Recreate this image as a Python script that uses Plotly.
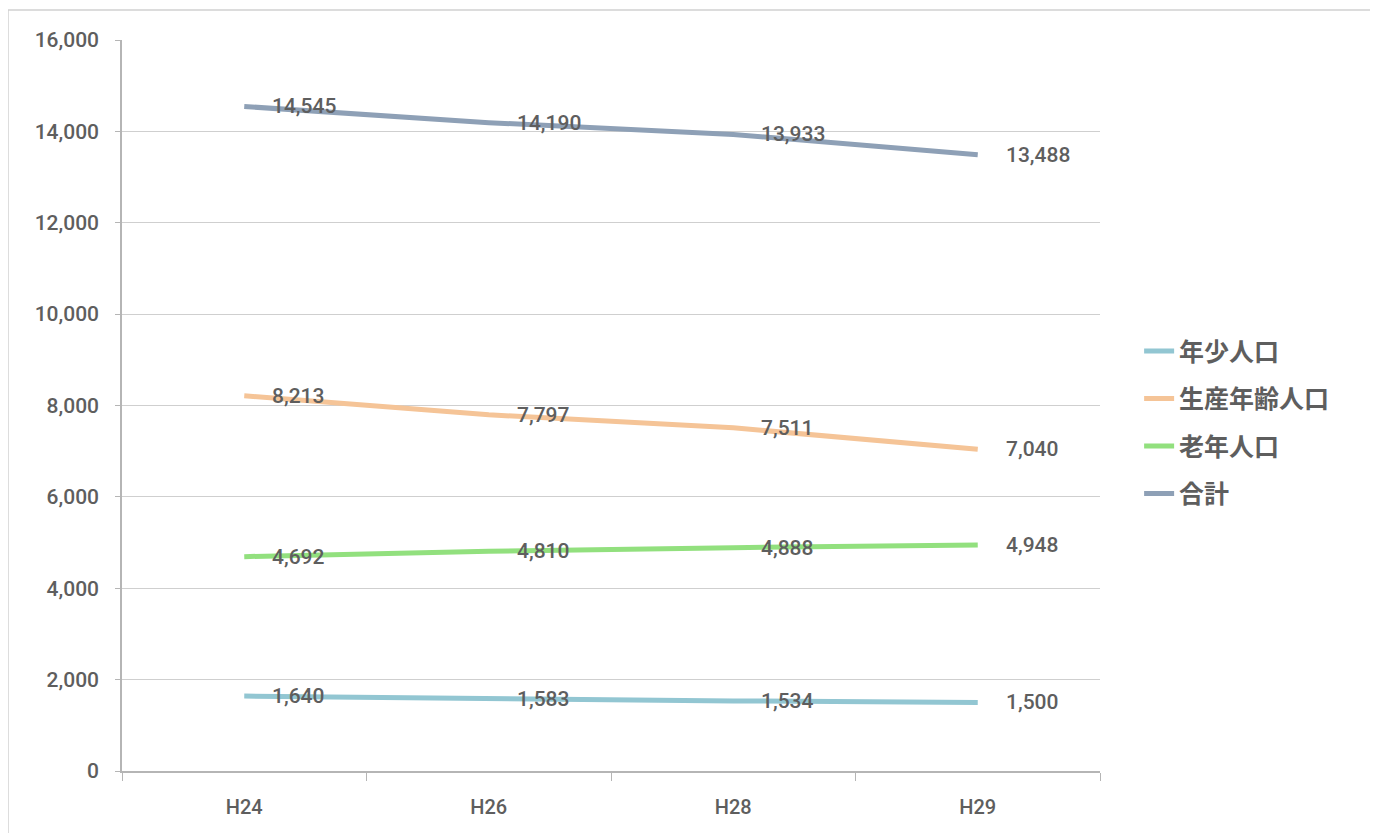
import plotly.graph_objects as go

categories = ["H24", "H26", "H28", "H29"]
series_names = ["年少人口", "生産年齢人口", "老年人口", "合計"]
young = [1640, 1583, 1534, 1500]
working = [8213, 7797, 7511, 7040]
elderly = [4692, 4810, 4888, 4948]
total = [14545, 14190, 13933, 13488]
y_ticks = [0, 2000, 4000, 6000, 8000, 10000, 12000, 14000, 16000]

series_values = [young, working, elderly, total]
colors = ["#92c6d2", "#f5c497", "#92e07e", "#8ea0b6"]

font_family = "Roboto, 'Noto Sans CJK JP', sans-serif"
cjk_family = "'Noto Sans CJK JP', sans-serif"
text_color = "#5e5e5e"

fig = go.Figure()
annotations = []
for name, vals, col in zip(series_names, series_values, colors):
    fig.add_trace(go.Scatter(
        x=categories, y=vals, name=name, mode="lines",
        line=dict(color=col, width=5), legendgroup=name,
    ))
    for c, v in zip(categories, vals):
        annotations.append(dict(
            x=c, y=v, xref="x", yref="y", text=f"{v:,}", showarrow=False,
            xanchor="left", yanchor="middle", xshift=26,
            font=dict(family=font_family, size=21, color=text_color, weight=500),
        ))

fig.update_layout(
    width=1378, height=833,
    margin=dict(l=114, r=286, t=32, b=70),
    paper_bgcolor="white", plot_bgcolor="white",
    font=dict(family=font_family, color=text_color),
    annotations=annotations,
    legend=dict(
        x=1.04, y=0.477, xanchor="left", yanchor="middle",
        font=dict(family=cjk_family, size=25, color=text_color, weight=700),
        tracegroupgap=12, bgcolor="rgba(0,0,0,0)",
    ),
    xaxis=dict(
        type="category", categoryorder="array", categoryarray=categories,
        showline=True, linecolor="#b5b5b5", linewidth=1.5,
        ticks="outside", tickson="boundaries", ticklen=8, tickcolor="#b5b5b5",
        showgrid=False, tickfont=dict(size=20, color=text_color, weight=500),
        ticklabelstandoff=17,
        range=[-0.5, 3.5],
    ),
    yaxis=dict(
        range=[0, 16000], tickvals=y_ticks, tickformat=",d",
        showline=True, linecolor="#b5b5b5", linewidth=1.5,
        gridcolor="#cfcfcf", gridwidth=1, zeroline=False,
        ticks="outside", ticklen=5, tickcolor="#b5b5b5",
        ticklabelstandoff=12,
        tickfont=dict(size=21, color=text_color, weight=500),
    ),
    shapes=[
        dict(type="line", xref="paper", yref="paper",
             x0=-0.1166, x1=1.3, y0=1.041, y1=1.041,
             line=dict(color="#d0d0d0", width=1.5)),
        dict(type="line", xref="paper", yref="paper",
             x0=-0.1166, x1=-0.1166, y0=-0.09, y1=1.041,
             line=dict(color="#d0d0d0", width=1.5)),
    ],
)

fig.write_html("out.html")
